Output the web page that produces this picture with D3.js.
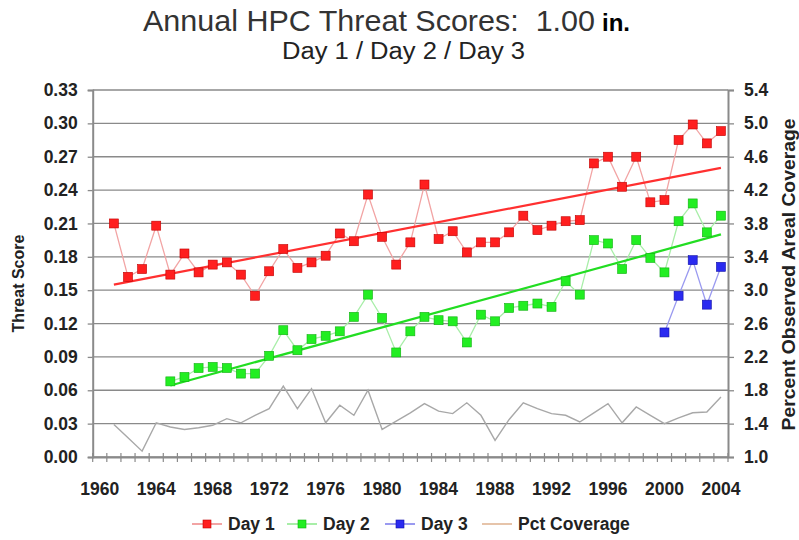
<!DOCTYPE html>
<html>
<head>
<meta charset="utf-8">
<script src="https://cdn.jsdelivr.net/npm/d3@7/dist/d3.min.js"></script>
<style>
  body { margin: 0; background: #fff; }
  svg { display: block; font-family: "Liberation Sans", Arial, sans-serif; }
</style>
</head>
<body>
<div id="chart"></div>
<script>
// categories (one per year)
const years = [1960, 1961, 1962, 1963, 1964, 1965, 1966, 1967, 1968, 1969,
               1970, 1971, 1972, 1973, 1974, 1975, 1976, 1977, 1978, 1979,
               1980, 1981, 1982, 1983, 1984, 1985, 1986, 1987, 1988, 1989,
               1990, 1991, 1992, 1993, 1994, 1995, 1996, 1997, 1998, 1999,
               2000, 2001, 2002, 2003, 2004];
const yearLabels = [1960, 1964, 1968, 1972, 1976, 1980, 1984, 1988, 1992, 1996, 2000, 2004];

// Day 1 threat score, 1961-2004
const day1Start = 1961;
const day1 = [0.210, 0.162, 0.169, 0.208, 0.164, 0.183, 0.166, 0.173, 0.175, 0.164,
              0.145, 0.167, 0.187, 0.170, 0.175, 0.181, 0.201, 0.194, 0.236, 0.198,
              0.173, 0.193, 0.245, 0.196, 0.203, 0.184, 0.193, 0.193, 0.202, 0.217,
              0.204, 0.208, 0.212, 0.213, 0.264, 0.270, 0.243, 0.270, 0.229, 0.231,
              0.285, 0.299, 0.282, 0.293];

// Day 2 threat score, 1965-2004
const day2Start = 1965;
const day2 = [0.068, 0.072, 0.080, 0.081, 0.080, 0.075,
              0.075, 0.091, 0.114, 0.096, 0.106, 0.109, 0.113, 0.126, 0.146, 0.125,
              0.094, 0.113, 0.126, 0.123, 0.122, 0.103, 0.128, 0.122, 0.134, 0.136,
              0.138, 0.135, 0.158, 0.146, 0.195, 0.192, 0.169, 0.195, 0.179, 0.166,
              0.212, 0.228, 0.202, 0.217];

// Day 3 threat score, 2000-2004
const day3Start = 2000;
const day3 = [0.112, 0.145, 0.177, 0.137, 0.171];

// percent observed areal coverage (right axis), 1961-2004
const pctStart = 1961;
const pct = [1.39, 1.23, 1.07, 1.41, 1.36, 1.33, 1.35, 1.38, 1.46, 1.41,
             1.50, 1.58, 1.85, 1.58, 1.82, 1.41, 1.62, 1.50, 1.80, 1.33,
             1.43, 1.53, 1.64, 1.55, 1.52, 1.65, 1.50, 1.20, 1.45, 1.65,
             1.58, 1.52, 1.50, 1.42, 1.53, 1.64, 1.41, 1.60, 1.50, 1.40,
             1.47, 1.53, 1.54, 1.72];

const leftTicks = [0, 0.03, 0.06, 0.09, 0.12, 0.15, 0.18, 0.21, 0.24, 0.27, 0.30, 0.33];
const rightTicks = [1.0, 1.4, 1.8, 2.2, 2.6, 3.0, 3.4, 3.8, 4.2, 4.6, 5.0, 5.4];

const width = 799, height = 540;
const plot = { left: 92.7, right: 728, top: 90, bottom: 457 };

const svg = d3.select("#chart").append("svg")
    .attr("width", width)
    .attr("height", height);

const x = d3.scaleBand().domain(years).range([plot.left, plot.right]);
const cx = yr => x(yr) + x.bandwidth() / 2;
const yL = d3.scaleLinear().domain([0, 0.33]).range([plot.bottom, plot.top]);
const yR = d3.scaleLinear().domain([1.0, 5.4]).range([plot.bottom, plot.top]);

const toPoints = (start, vals) => vals.map((v, i) => ({ year: start + i, value: v }));

// least squares trend over a series
const trend = pts => {
    const n = pts.length;
    const mx = d3.mean(pts, d => d.year), my = d3.mean(pts, d => d.value);
    const b = d3.sum(pts, d => (d.year - mx) * (d.value - my)) / d3.sum(pts, d => (d.year - mx) ** 2);
    const a = my - b * mx;
    return [pts[0], pts[n - 1]].map(d => ({ year: d.year, value: a + b * d.year }));
};

// gridlines
svg.append("g").selectAll("line")
    .data(leftTicks)
    .enter().append("line")
    .attr("x1", plot.left).attr("x2", plot.right)
    .attr("y1", d => yL(d)).attr("y2", d => yL(d))
    .attr("stroke", "#8a8a8a").attr("stroke-width", 1.3);

// left axis
const gL = svg.append("g")
    .attr("transform", `translate(${plot.left},0)`)
    .call(d3.axisLeft(yL).tickValues(leftTicks).tickSize(5).tickPadding(10).tickFormat(d3.format(".2f")));

// right axis
const gR = svg.append("g")
    .attr("transform", `translate(${plot.right},0)`)
    .call(d3.axisRight(yR).tickValues(rightTicks).tickSize(6).tickPadding(10).tickFormat(d3.format(".1f")));

// bottom axis: labels at category centres, ticks on category edges
const gB = svg.append("g")
    .attr("transform", `translate(0,${plot.bottom})`)
    .call(d3.axisBottom(x).tickValues(yearLabels).tickSize(0).tickPadding(26));
gB.append("g").selectAll("line")
    .data(years.concat([null]))
    .enter().append("line")
    .attr("x1", d => d === null ? plot.right : x(d))
    .attr("x2", d => d === null ? plot.right : x(d))
    .attr("y1", -4).attr("y2", 5)
    .attr("stroke", "#8a8a8a").attr("stroke-width", 1.2);

[gL, gR, gB].forEach(g => {
    g.select(".domain").attr("stroke", "#8a8a8a").attr("stroke-width", 2);
    g.selectAll(".tick line").attr("stroke", "#8a8a8a").attr("stroke-width", 1.3);
    g.selectAll("text")
        .attr("fill", "#222")
        .style("font-size", "17.5px")
        .style("font-weight", "bold")
        .style("font-family", "'Liberation Sans', Arial, sans-serif");
});

// percent coverage line
const lineR = d3.line().x(d => cx(d.year)).y(d => yR(d.value));
svg.append("path")
    .datum(toPoints(pctStart, pct))
    .attr("d", lineR)
    .attr("fill", "none")
    .attr("stroke", "#a8a8a8")
    .attr("stroke-width", 1.4);

// threat score series
const lineL = d3.line().x(d => cx(d.year)).y(d => yL(d.value));
const series = [
    { name: "Day 1", start: day1Start, values: day1, color: "#ff1f1f", edge: "#c00000", link: "#f2a4a4", trend: "#ff3030" },
    { name: "Day 2", start: day2Start, values: day2, color: "#22ee22", edge: "#10b010", link: "#a8eea8", trend: "#22dd22" },
    { name: "Day 3", start: day3Start, values: day3, color: "#2a2af0", edge: "#1010a8", link: "#9a9af0", trend: null }
];

series.forEach(s => {
    const pts = toPoints(s.start, s.values);
    svg.append("path").datum(pts).attr("d", lineL)
        .attr("fill", "none").attr("stroke", s.link).attr("stroke-width", 1.3);
    if (s.trend) {
        svg.append("path").datum(trend(pts)).attr("d", lineL)
            .attr("fill", "none").attr("stroke", s.trend).attr("stroke-width", 2.2);
    }
    svg.append("g").selectAll("rect")
        .data(pts)
        .enter().append("rect")
        .attr("x", d => cx(d.year) - 4.5)
        .attr("y", d => yL(d.value) - 4.5)
        .attr("width", 9).attr("height", 9)
        .attr("fill", s.color)
        .attr("stroke", s.edge).attr("stroke-width", 0.6);
});

// titles
svg.append("text")
    .attr("x", 143).attr("y", 31)
    .attr("textLength", 452).attr("lengthAdjust", "spacingAndGlyphs")
    .style("white-space", "pre")
    .style("font-size", "29px").attr("fill", "#333")
    .text("Annual HPC Threat Scores:  1.00");
svg.append("text")
    .attr("x", 602).attr("y", 31)
    .style("font-size", "24px").style("font-weight", "bold").attr("fill", "#000")
    .text("in.");
svg.append("text")
    .attr("x", 282).attr("y", 59)
    .attr("textLength", 243).attr("lengthAdjust", "spacingAndGlyphs")
    .style("font-size", "23px").attr("fill", "#222")
    .text("Day 1 / Day 2 / Day 3");

svg.append("text")
    .attr("transform", `translate(24,${(plot.top + plot.bottom) / 2 + 10}) rotate(-90)`)
    .attr("text-anchor", "middle")
    .style("font-size", "16px").style("font-weight", "bold").attr("fill", "#222")
    .text("Threat Score");
svg.append("text")
    .attr("transform", `translate(795,${(plot.top + plot.bottom) / 2 + 1}) rotate(-90)`)
    .attr("text-anchor", "middle")
    .attr("textLength", 312).attr("lengthAdjust", "spacingAndGlyphs")
    .style("font-size", "17.5px").style("font-weight", "bold").attr("fill", "#222")
    .text("Percent Observed Areal Coverage");

// legend
const legendItems = [
    { name: "Day 1", color: "#ff1f1f", edge: "#c00000", link: "#f2a4a4", x: 192 },
    { name: "Day 2", color: "#22ee22", edge: "#10b010", link: "#a8eea8", x: 287 },
    { name: "Day 3", color: "#2a2af0", edge: "#1010a8", link: "#9a9af0", x: 385 },
    { name: "Pct Coverage", color: null, link: "#e6c4aa", x: 482 }
];
const legend = svg.append("g").attr("transform", "translate(0,524)");
legendItems.forEach(it => {
    const g = legend.append("g").attr("transform", `translate(${it.x},0)`);
    g.append("line").attr("x1", 0).attr("x2", 30).attr("y1", 0).attr("y2", 0)
        .attr("stroke", it.link).attr("stroke-width", 2);
    if (it.color) {
        g.append("rect").attr("x", 11).attr("y", -4).attr("width", 8).attr("height", 8)
            .attr("fill", it.color).attr("stroke", it.edge).attr("stroke-width", 0.6);
    }
    g.append("text").attr("x", 36).attr("y", 6)
        .style("font-size", "17.5px").style("font-weight", "bold").attr("fill", "#222")
        .text(it.name);
});
</script>
</body>
</html>
